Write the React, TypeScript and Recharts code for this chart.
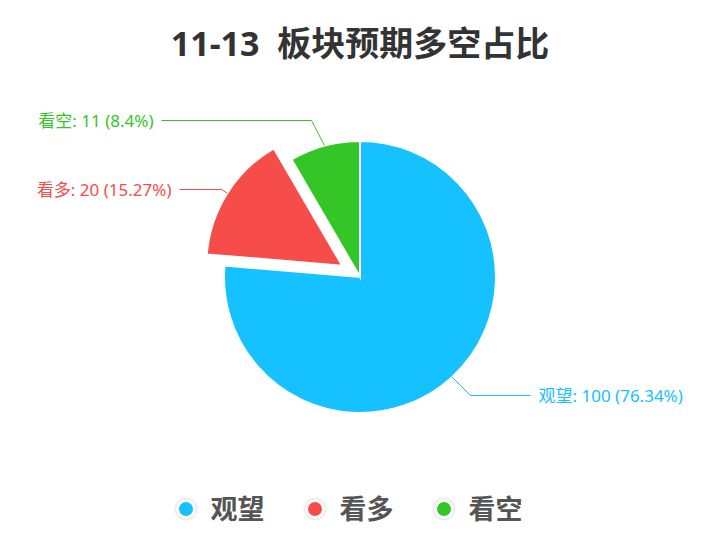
import { PieChart, Pie, Cell, Legend } from 'recharts'

const titleText = '11-13  板块预期多空占比'
const names = ['观望', '看多', '看空']
const values = [100, 20, 11]
const colors = ['#16c1ff', '#f64c4a', '#34c626']
const explodeIndex = 1

const data = names.map((name, i) => ({ name, value: values[i] }))
const total = values.reduce((a, b) => a + b, 0)
const RAD = Math.PI / 180

const CX = 360
const CY = 277
const R = 136
const EXPLODE = 21

// label line: bend from the slice edge, then a horizontal run
const bends = [[18, 18], [-6, -4], [-14, -26]]
const runs = [60, 42, 150]

const font = '"Noto Sans", "Noto Sans CJK SC", sans-serif'

const pct = (v: number) => parseFloat(((v / total) * 100).toFixed(2))
// snap to half pixels so 1px lines stay crisp
const snap = (v: number) => Math.round(v) + 0.5

// the pulled-out slice gets its own pie, shifted along its mid angle
const before = values.slice(0, explodeIndex).reduce((a, b) => a + b, 0)
const midA = 90 - (360 * (before + values[explodeIndex] / 2)) / total
const ex = CX + EXPLODE * Math.cos(midA * RAD)
const ey = CY - EXPLODE * Math.sin(midA * RAD)

function makeLabel(exploded: boolean) {
  return (p: any) => {
    const i = p.index
    if ((i === explodeIndex) !== exploded) return null
    const a = -p.midAngle * RAD
    const x0 = p.cx + p.outerRadius * Math.cos(a)
    const y0 = p.cy + p.outerRadius * Math.sin(a)
    const x1 = snap(x0 + bends[i][0])
    const y1 = snap(y0 + bends[i][1])
    const right = Math.cos(a) >= 0
    const x2 = right ? x1 + runs[i] : x1 - runs[i]
    const tx = right ? x2 + 8 : x2 - 8
    return (
      <g key={`lbl-${i}`}>
        <polyline
          points={`${x0},${y0} ${x1},${y1} ${x2},${y1}`}
          fill="none"
          stroke={colors[i]}
          strokeWidth={1}
        />
        <text
          x={tx}
          y={y1}
          fill={colors[i]}
          fontSize={17}
          fontFamily={font}
          textAnchor={right ? 'start' : 'end'}
          dominantBaseline="central"
        >
          {`${names[i]}: ${values[i]} (${pct(values[i])}%)`}
        </text>
      </g>
    )
  }
}

const renderLegend = () => (
  <div
    style={{
      display: 'flex',
      justifyContent: 'center',
      alignItems: 'center',
      gap: 40,
      paddingRight: 22,
    }}
  >
    {names.map((n, i) => (
      <div key={n} style={{ display: 'flex', alignItems: 'center', gap: 15 }}>
        <span
          style={{
            display: 'inline-block',
            width: 14,
            height: 14,
            borderRadius: '50%',
            background: colors[i],
            border: '3px solid #fff',
            boxShadow: '0 0 2px 1px rgba(0,0,0,0.12)',
          }}
        />
        <span style={{ fontSize: 27, fontWeight: 'bold', color: '#555', fontFamily: font, lineHeight: '38px' }}>
          {n}
        </span>
      </div>
    ))}
  </div>
)

export default function App() {
  return (
    <div style={{ position: 'absolute', left: 0, top: 0, width: 720, height: 554, background: '#fff' }}>
      <div
        style={{
          position: 'absolute',
          left: 0,
          top: 24,
          width: 720,
          textAlign: 'center',
          fontSize: 34,
          lineHeight: '38px',
          fontWeight: 'bold',
          color: '#333',
          fontFamily: font,
          whiteSpace: 'pre',
        }}
      >
        {titleText}
      </div>
      <PieChart width={720} height={554} margin={{ top: 0, right: 0, bottom: 0, left: 0 }}>
        <Pie
          data={data}
          dataKey="value"
          nameKey="name"
          cx={CX}
          cy={CY}
          outerRadius={R}
          startAngle={90}
          endAngle={-270}
          stroke="#fff"
          strokeWidth={2}
          label={makeLabel(false)}
          labelLine={false}
          isAnimationActive={false}
        >
          {data.map((d, i) => (
            <Cell
              key={d.name}
              fill={i === explodeIndex ? 'none' : colors[i]}
              stroke={i === explodeIndex ? 'none' : '#fff'}
            />
          ))}
        </Pie>
        <Pie
          data={data}
          dataKey="value"
          nameKey="name"
          cx={ex}
          cy={ey}
          outerRadius={R}
          startAngle={90}
          endAngle={-270}
          stroke="#fff"
          strokeWidth={2}
          label={makeLabel(true)}
          labelLine={false}
          isAnimationActive={false}
        >
          {data.map((d, i) => (
            <Cell
              key={d.name}
              fill={i === explodeIndex ? colors[i] : 'none'}
              stroke={i === explodeIndex ? '#fff' : 'none'}
            />
          ))}
        </Pie>
        <Legend
          content={renderLegend}
          wrapperStyle={{ top: 490, left: 0, width: 720, height: 38 }}
        />
      </PieChart>
    </div>
  )
}
